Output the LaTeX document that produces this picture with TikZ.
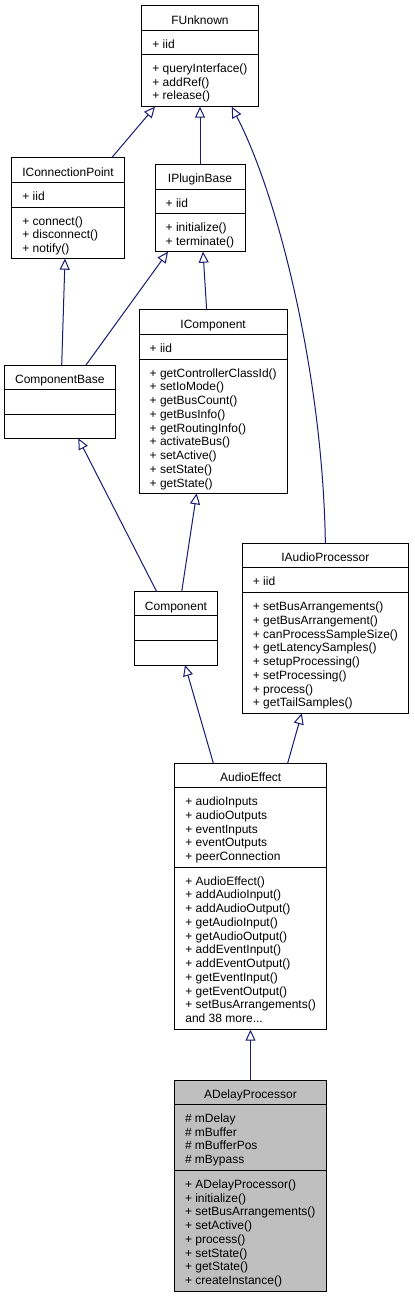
\documentclass[tikz,border=0pt]{standalone}
\usepackage{fontspec}
\setmainfont{Liberation Sans}
\usetikzlibrary{arrows.meta}
\definecolor{edgeblue}{HTML}{191970}
\definecolor{hlgray}{HTML}{BFBFBF}
\tikzset{
 clsbox/.style={draw=black, line width=1pt, inner sep=0pt, outer sep=0pt, anchor=north west},
 divline/.style={draw=black, line width=1pt},
 clstitle/.style={font=\fontsize{12}{13.75}\selectfont, inner sep=0pt, anchor=base},
 clstext/.style={font=\fontsize{12}{13.75}\selectfont, inner sep=0pt, anchor=north west, align=left},
 inherit/.style={draw=edgeblue, line width=1pt, -{Triangle[open, length=11pt, width=10pt]}},
}
% name, x1, y1, x2, y2, d1, d2, title, fill
\newcommand{\umlclass}[9]{%
  \pgfmathsetmacro\uw{#4-#2}\pgfmathsetmacro\uh{#5-#3}%
  \node[clsbox, fill=#9, minimum width=\uw pt, minimum height=\uh pt] (#1) at (#2,#3) {};
  \draw[divline] (#2,#6) -- (#4,#6);
  \draw[divline] (#2,#7) -- (#4,#7);
  \pgfmathsetmacro\ux{(#2+#4)/2}\pgfmathsetmacro\uy{#3+18.3}%
  \node[clstitle] (#1-title) at (\ux,\uy) {#8};
}
% name, x1, compartment top, lines
\newcommand{\umlfields}[4]{%
  \pgfmathsetmacro\ufx{#2+10.5}\pgfmathsetmacro\ufy{#3+8.2}%
  \node[clstext] (#1) at (\ufx,\ufy) {\strut #4};
}
\begin{document}
\begin{tikzpicture}[x=1pt,y=-1pt]
\useasboundingbox[fill=white] (0,0) rectangle (415,1299);

\umlclass{fu}{141.7}{5.7}{258.3}{106.7}{30}{54.3}{FUnknown}{white}
\umlfields{fu-a}{141.7}{30}{+ iid}
\umlfields{fu-m}{141.7}{54.3}{+ queryInterface()\\+ addRef()\\+ release()}

\umlclass{icp}{11.7}{157.7}{124.3}{258.7}{182.3}{207}{IConnectionPoint}{white}
\umlfields{icp-a}{11.7}{182.3}{+ iid}
\umlfields{icp-m}{11.7}{207}{+ connect()\\+ disconnect()\\+ notify()}

\umlclass{ipb}{155}{164.3}{245}{251.7}{189}{213.3}{IPluginBase}{white}
\umlfields{ipb-a}{155}{189}{+ iid}
\umlfields{ipb-m}{155}{213.3}{+ initialize()\\+ terminate()}

\umlclass{cb}{4.3}{365}{115.3}{438.3}{389.3}{414}{ComponentBase}{white}

\umlclass{ic}{139}{309.7}{287.3}{493.3}{334}{359}{IComponent}{white}
\umlfields{ic-a}{139}{334}{+ iid}
\umlfields{ic-m}{139}{359}{+ getControllerClassId()\\+ setIoMode()\\+ getBusCount()\\+ getBusInfo()\\+ getRoutingInfo()\\+ activateBus()\\+ setActive()\\+ setState()\\+ getState()}

\umlclass{iap}{242.2}{543.3}{408.5}{713.3}{567.7}{592.7}{IAudioProcessor}{white}
\umlfields{iap-a}{242.2}{567.7}{+ iid}
\umlfields{iap-m}{242.2}{592.7}{+ setBusArrangements()\\+ getBusArrangement()\\+ canProcessSampleSize()\\+ getLatencySamples()\\+ setupProcessing()\\+ setProcessing()\\+ process()\\+ getTailSamples()}

\umlclass{comp}{134.3}{591.7}{217.7}{665}{615.7}{640.3}{Component}{white}

\umlclass{ae}{174.7}{763}{326.7}{1029.7}{787.7}{867}{AudioEffect}{white}
\umlfields{ae-a}{174.7}{787.7}{+ audioInputs\\+ audioOutputs\\+ eventInputs\\+ eventOutputs\\+ peerConnection}
\umlfields{ae-m}{174.7}{867}{+ AudioEffect()\\+ addAudioInput()\\+ addAudioOutput()\\+ getAudioInput()\\+ getAudioOutput()\\+ addEventInput()\\+ addEventOutput()\\+ getEventInput()\\+ getEventOutput()\\+ setBusArrangements()\\and 38 more...}

\umlclass{adp}{174.3}{1080}{326.7}{1291}{1104.3}{1170.3}{ADelayProcessor}{hlgray}
\umlfields{adp-a}{174.3}{1104.3}{\# mDelay\\\# mBuffer\\\# mBufferPos\\\# mBypass}
\umlfields{adp-m}{174.3}{1170.3}{+ ADelayProcessor()\\+ initialize()\\+ setBusArrangements()\\+ setActive()\\+ process()\\+ setState()\\+ getState()\\+ createInstance()}

% inheritance edges
\draw[inherit] ([xshift=43.7pt]icp.north) -- ([xshift=-45pt]fu.south);
\draw[inherit] (ipb.north) -- (fu.south);
\draw[inherit] (iap.north) .. controls (323,380) and (280,200) .. ([xshift=31.7pt]fu.south);
\draw[inherit] ([xshift=1.9pt]cb.north) -- ([xshift=-3pt]icp.south);
\draw[inherit] ([xshift=26.2pt]cb.north) -- ([xshift=-32pt]ipb.south);
\draw[inherit] ([xshift=-6.5pt]ic.north) -- ([xshift=3pt]ipb.south);
\draw[inherit] ([xshift=-19.3pt]comp.north) -- ([xshift=18.5pt]cb.south);
\draw[inherit] ([xshift=5.7pt]comp.north) -- ([xshift=-16.5pt]ic.south);
\draw[inherit] ([xshift=-37.4pt]ae.north) -- ([xshift=9pt]comp.south);
\draw[inherit] ([xshift=37pt]ae.north) -- ([xshift=-23.6pt]iap.south);
\draw[inherit] (adp.north) -- (adp.north |- ae.south);
\end{tikzpicture}
\end{document}
